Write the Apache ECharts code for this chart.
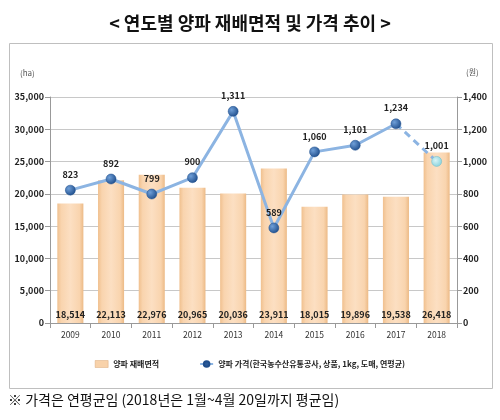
<!DOCTYPE html>
<html><head><meta charset="utf-8">
<script src="https://cdn.jsdelivr.net/npm/echarts@6/dist/echarts.min.js"></script>
<style>html,body{margin:0;padding:0;background:#fff}#c{width:500px;height:420px}</style>
</head><body><div id="c"></div>
<script>
var years = ['2009','2010','2011','2012','2013','2014','2015','2016','2017','2018'];
var areaHa = [18514, 22113, 22976, 20965, 20036, 23911, 18015, 19896, 19538, 26418];
var priceWon = [823, 892, 799, 900, 1311, 589, 1060, 1101, 1234, 1001];
var areaName = '양파 재배면적';
var priceName = '양파 가격(한국농수산유통공사, 상품, 1kg, 도매, 연평균)';
var titleText = '< 연도별 양파 재배면적 및 가격 추이 >';
var noteText = '※ 가격은 연평균임 (2018년은 1월~4월 20일까지 평균임)';

var font = '"Noto Sans CJK KR", "Noto Sans", sans-serif';
var n = years.length;
var solidPrice = priceWon.map(function(v, i){ return i < n - 1 ? v : '-'; });
var dashPrice = priceWon.map(function(v, i){ return i >= n - 2 ? v : '-'; });

var chart = echarts.init(document.getElementById('c'), null, {renderer: 'canvas'});
var fmt = function(v){ return Number(v).toLocaleString('en-US'); };
var markerColor = {type:'radial', x:0.35, y:0.35, r:0.7, colorStops:[{offset:0,color:'#6f9fd8'},{offset:1,color:'#1f4e8c'}]};

chart.setOption({
  animation: false,
  textStyle: {fontFamily: font},
  title: {text: titleText, left: 'center', top: 9,
    textStyle: {fontFamily: font, fontSize: 18, fontWeight: 'bold', color: '#111'}},
  graphic: [
    {type:'rect', shape:{x:9.5, y:43.5, width:483, height:345}, style:{fill:null, stroke:'#bfbfbf', lineWidth:1}, z:-1},
    {type:'text', left:20, top:69, style:{text:'(ha)', fontSize:8, fill:'#555', fontFamily: font}},
    {type:'text', left:466, top:68, style:{text:'(원)', fontSize:8, fill:'#555', fontFamily: font}},
    {type:'text', left:8, top:393, style:{text:noteText, fontSize:14, fill:'#111', fontFamily: font}}
  ],
  legend: {
    bottom: 47, left: 'center', itemGap: 40, itemWidth: 13, itemHeight: 7,
    textStyle: {fontSize: 8, fontWeight: 'bold', color: '#222', fontFamily: font},
    data: [
      {name: areaName, icon: 'rect', itemStyle: {color: '#f8d2aa', borderColor:'#d9a878', borderWidth: 0.5}},
      {name: priceName, itemStyle: {color: '#2a5a98'}}
    ]
  },
  grid: {left: 50, right: 43, top: 97, bottom: 97},
  xAxis: {
    type: 'category', data: years,
    axisLine: {lineStyle: {color: '#999'}},
    axisTick: {show: true, lineStyle: {color: '#999'}},
    axisLabel: {fontSize: 8.5, color: '#333', margin: 8}
  },
  yAxis: [
    {type: 'value', min: 0, max: 35000, interval: 5000,
     axisLine: {show: true, lineStyle: {color: '#999'}},
     axisTick: {show: true, lineStyle: {color: '#999'}},
     axisLabel: {fontSize: 9, fontWeight: 'bold', color: '#222', formatter: fmt, margin: 6},
     splitLine: {lineStyle: {color: '#c8c8c8'}}},
    {type: 'value', min: 0, max: 1400, interval: 200,
     axisLine: {show: true, lineStyle: {color: '#999'}},
     axisTick: {show: true, lineStyle: {color: '#999'}},
     axisLabel: {fontSize: 9, fontWeight: 'bold', color: '#222', formatter: fmt, margin: 6},
     splitLine: {show: false}}
  ],
  series: [
    {name: areaName, type: 'bar', data: areaHa, barWidth: '64%', yAxisIndex: 0,
     itemStyle: {color: {type:'linear', x:0, y:0, x2:1, y2:0, colorStops:[
        {offset:0, color:'#f0c08e'}, {offset:0.15, color:'#f9d4ae'}, {offset:0.5, color:'#fcdfc2'},
        {offset:0.85, color:'#f9d4ae'}, {offset:1, color:'#ecba86'}]},
       borderColor: '#fff3e6', borderWidth: 0},
     label: {show: true, position: 'insideBottom', distance: 4, fontSize: 9, fontWeight: 'bold', color: '#222', formatter: function(p){ return fmt(p.value); }}},
    {name: priceName, type: 'line', data: solidPrice, yAxisIndex: 1,
     symbol: 'circle', symbolSize: 10,
     lineStyle: {color: '#8cb4e2', width: 3},
     itemStyle: {color: markerColor, borderColor: '#1f4e8c', borderWidth: 0.5},
     label: {show: true, position: 'top', distance: 6, fontSize: 9, fontWeight: 'bold', color: '#222', formatter: function(p){ return fmt(p.value); }}},
    {name: priceName + ' ', type: 'line', data: dashPrice, yAxisIndex: 1,
     symbol: function(v, p){ return p.dataIndex === n - 1 ? 'circle' : 'none'; }, symbolSize: 10,
     lineStyle: {color: '#8cb4e2', width: 3, type: [7, 5]},
     itemStyle: {color: {type:'radial', x:0.4, y:0.4, r:0.7, colorStops:[{offset:0,color:'#d8f4f6'},{offset:1,color:'#7fcfdb'}]}, borderColor:'#6fb8c4', borderWidth: 0.5},
     label: {show: true, position: 'top', distance: 6, fontSize: 9, fontWeight: 'bold', color: '#222',
       formatter: function(p){ return p.dataIndex === n - 1 ? fmt(p.value) : ''; }}}
  ]
});
</script></body></html>
